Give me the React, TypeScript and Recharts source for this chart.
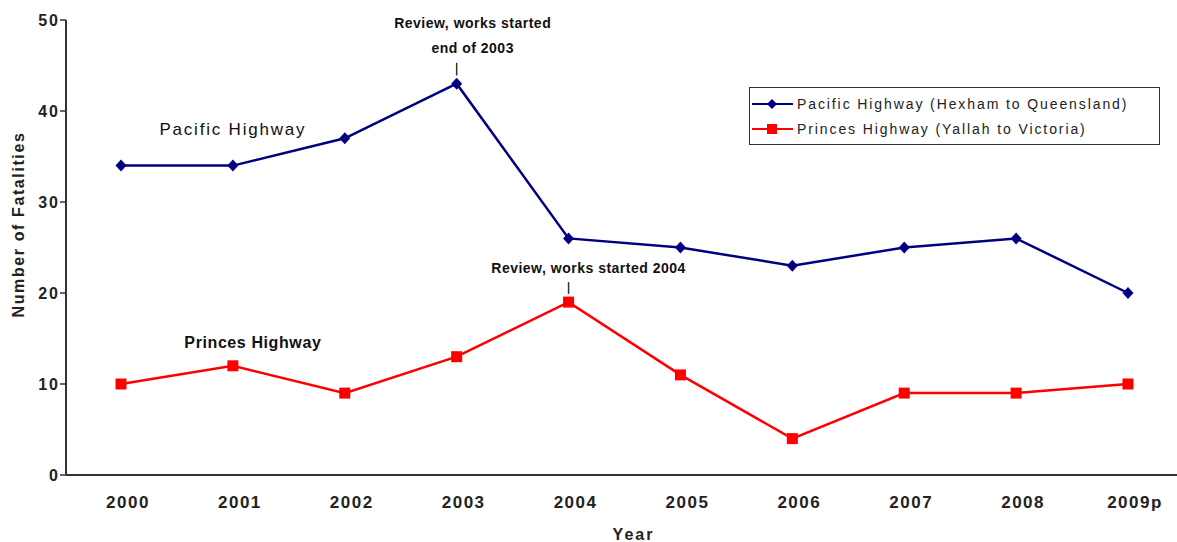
import React from 'react';
import {
  LineChart, Line, XAxis, YAxis, Legend, ReferenceDot, ReferenceLine,
} from 'recharts';

const years = ['2000', '2001', '2002', '2003', '2004', '2005', '2006', '2007', '2008', '2009p'];
const pacific = [34, 34, 37, 43, 26, 25, 23, 25, 26, 20];
const princes = [10, 12, 9, 13, 19, 11, 4, 9, 9, 10];
const yTicks = [0, 10, 20, 30, 40, 50];

const data = years.map((year, i) => ({ year, pacific: pacific[i], princes: princes[i] }));

const FONT = '"Liberation Sans", Arial, sans-serif';
const NAVY = '#000080';
const RED = '#ff0000';

const Diamond = (props: any) => {
  const { cx, cy, index } = props;
  return (
    <path
      key={`d-${index}`}
      d={`M${cx},${cy - 6}L${cx + 5.5},${cy}L${cx},${cy + 6}L${cx - 5.5},${cy}Z`}
      fill={NAVY}
    />
  );
};

const Square = (props: any) => {
  const { cx, cy, index } = props;
  return <rect key={`s-${index}`} x={cx - 5.5} y={cy - 5.5} width={11} height={11} fill={RED} />;
};

// text note anchored at a data position
const note = (lines: string[], size: number, opts: { dx?: number; bold?: boolean; spacing?: number } = {}) =>
  (props: any) => {
    const { dx = 0, bold = false, spacing = 0 } = opts;
    const vb = props.viewBox || {};
    const x = (vb.x || 0) + (vb.width || 0) / 2 + dx;
    const y = (vb.y || 0) + (vb.height || 0) / 2;
    return (
      <g>
        {lines.map((t, i) => (
          <text
            key={i}
            x={x}
            y={y + (i - (lines.length - 1) / 2) * 25}
            textAnchor="middle"
            dominantBaseline="central"
            fontFamily={FONT}
            fontSize={size}
            fontWeight={bold ? 'bold' : 'normal'}
            letterSpacing={spacing}
            fill="#111"
          >
            {t}
          </text>
        ))}
      </g>
    );
  };

const YLabel = (props: any) => {
  const vb = props.viewBox || {};
  const x = (vb.x || 0) + 18;
  const y = (vb.y || 0) + (vb.height || 0) / 2 - 23;
  return (
    <text
      x={x}
      y={y}
      transform={`rotate(-90 ${x} ${y})`}
      textAnchor="middle"
      dominantBaseline="central"
      fontFamily={FONT}
      fontSize={16}
      fontWeight="bold"
      letterSpacing={1.6}
      fill="#222"
    >
      Number of Fatalities
    </text>
  );
};

const LegendBox = () => (
  <div
    style={{
      width: 409,
      height: 56,
      border: '1px solid #333',
      background: '#fff',
      fontFamily: FONT,
      fontSize: 14,
      letterSpacing: 1.9,
      color: '#222',
      boxSizing: 'content-box',
    }}
  >
    {[
      { label: 'Pacific Highway (Hexham to Queensland)', color: NAVY, shape: 'diamond' },
      { label: 'Princes Highway (Yallah to Victoria)', color: RED, shape: 'square' },
    ].map((it, i) => (
      <div key={i} style={{ display: 'flex', alignItems: 'center', height: 24, marginTop: i === 0 ? 4 : 1 }}>
        <svg width={44} height={14} style={{ marginLeft: 2 }}>
          <line x1={0} y1={7} x2={41} y2={7} stroke={it.color} strokeWidth={2} />
          {it.shape === 'diamond' ? (
            <path d="M20,2L25,7L20,12L15,7Z" fill={it.color} />
          ) : (
            <rect x={15} y={2} width={10} height={10} fill={it.color} />
          )}
        </svg>
        <span style={{ marginLeft: 1 }}>{it.label}</span>
      </div>
    ))}
  </div>
);

export default function App() {
  return (
    <div style={{ position: 'absolute', left: 0, top: 0, background: '#fff' }}>
      <LineChart
        width={1177}
        height={542}
        data={data}
        margin={{ top: 20, right: 0, left: 0, bottom: 0 }}
      >
        <XAxis
          dataKey="year"
          height={67}
          padding={{ left: 55, right: 49 }}
          tickLine={false}
          tickSize={0}
          tickMargin={21}
          axisLine={{ stroke: '#333', strokeWidth: 2 }}
          tick={{ fill: '#222', fontSize: 17, fontWeight: 'bold', fontFamily: FONT, letterSpacing: 1.5, dx: 7 }}
          label={{
            value: 'Year',
            position: 'insideBottom',
            offset: 2,
            dx: 12,
            fill: '#222',
            fontSize: 16,
            fontWeight: 'bold',
            fontFamily: FONT,
            letterSpacing: 2,
          }}
        />
        <YAxis
          width={66}
          domain={[0, 50]}
          ticks={yTicks}
          interval={0}
          tickSize={6}
          tickMargin={0}
          tickLine={{ stroke: '#333', strokeWidth: 1.5 }}
          axisLine={{ stroke: '#333', strokeWidth: 2 }}
          tick={{ fill: '#222', fontSize: 16, fontWeight: 'bold', fontFamily: FONT, letterSpacing: 2 }}
          label={<YLabel />}
        />
        <Legend
          layout="vertical"
          align="center"
          verticalAlign="middle"
          wrapperStyle={{ left: 749, top: 87, width: 411 }}
          content={() => <LegendBox />}
        />
        <Line
          dataKey="pacific"
          name="Pacific Highway (Hexham to Queensland)"
          stroke={NAVY}
          strokeWidth={2.5}
          dot={Diamond}
          activeDot={false}
          isAnimationActive={false}
        />
        <Line
          dataKey="princes"
          name="Princes Highway (Yallah to Victoria)"
          stroke={RED}
          strokeWidth={2.5}
          dot={Square}
          activeDot={false}
          isAnimationActive={false}
        />
        <ReferenceLine
          segment={[{ x: '2003', y: 45.3 }, { x: '2003', y: 43.9 }]}
          stroke="#333"
          strokeWidth={1.5}
        />
        <ReferenceLine
          segment={[{ x: '2004', y: 21.2 }, { x: '2004', y: 19.9 }]}
          stroke="#333"
          strokeWidth={1.5}
        />
        <ReferenceDot
          x="2001"
          y={38}
          r={1}
          fill="none"
          stroke="none"
          label={note(['Pacific Highway'], 17, { spacing: 1.8 })}
        />
        <ReferenceDot
          x="2001"
          y={14.6}
          r={1}
          fill="none"
          stroke="none"
          label={note(['Princes Highway'], 16, { dx: 20, bold: true, spacing: 0.6 })}
        />
        <ReferenceDot
          x="2003"
          y={48.3}
          r={1}
          fill="none"
          stroke="none"
          label={note(['Review, works started', 'end of 2003'], 14, { dx: 16, bold: true, spacing: 0.5 })}
        />
        <ReferenceDot
          x="2004"
          y={22.7}
          r={1}
          fill="none"
          stroke="none"
          label={note(['Review, works started 2004'], 14, { dx: 20, bold: true, spacing: 0.5 })}
        />
      </LineChart>
    </div>
  );
}
